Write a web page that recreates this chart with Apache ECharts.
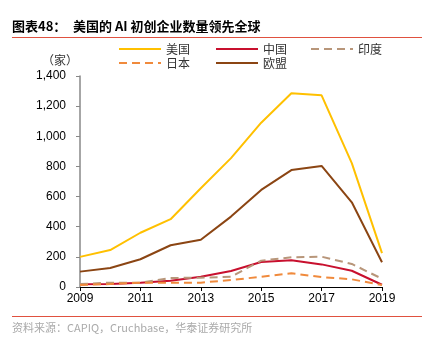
<!DOCTYPE html>
<html><head><meta charset="utf-8">
<script src="https://cdn.jsdelivr.net/npm/echarts@6/dist/echarts.min.js"></script>
<style>html,body{margin:0;padding:0;background:#fff}#c{width:428px;height:342px}</style>
</head><body><div id="c"></div>
<script>
var years = ['2009','2010','2011','2012','2013','2014','2015','2016','2017','2018','2019'];
var us = [200, 245, 360, 450, 655, 855, 1090, 1285, 1272, 822, 225];
var cn = [18, 20, 29, 42, 68, 106, 166, 177, 150, 108, 15];
var india = [20, 29, 29, 60, 62, 68, 175, 197, 201, 153, 55];
var jp = [13, 20, 29, 29, 29, 46, 68, 91, 66, 51, 13];
var eu = [102, 126, 184, 277, 314, 467, 644, 776, 803, 562, 164];
var yTicks = {min: 0, max: 1400, interval: 200};

var chart = echarts.init(document.getElementById('c'), null, {renderer: 'canvas'});
var cjk = '"Liberation Sans", Arial, "Noto Sans CJK SC", sans-serif';
function mk(name, data, color, dashed) {
  return {
    name: name, type: 'line', data: data, symbol: 'none',
    lineStyle: {color: color, width: 2, type: dashed ? [8, 5] : 'solid'},
    itemStyle: {color: color}
  };
}
function lg(name, left, top) {
  return {
    data: [name], left: left, top: top, padding: 0,
    itemWidth: 42, itemHeight: 10, itemGap: 6,
    itemStyle: {opacity: 0, borderWidth: 0},
    textStyle: {fontSize: 12, color: '#333', fontFamily: '"Noto Sans CJK SC", sans-serif'}
  };
}
chart.setOption({
  animation: false,
  grid: {left: 80, right: 46, top: 76, bottom: 55},
  legend: [
    lg('美国', 118, 43), lg('中国', 215, 43), lg('印度', 310, 43),
    lg('日本', 118, 57), lg('欧盟', 215, 57)
  ],
  xAxis: {
    type: 'category', data: years, boundaryGap: false,
    axisLine: {lineStyle: {color: '#000', width: 1}},
    axisTick: {interval: 1, length: 4, lineStyle: {color: '#000'}},
    axisLabel: {interval: 1, fontSize: 12, color: '#000', fontFamily: cjk, margin: 6}
  },
  yAxis: {
    type: 'value', min: yTicks.min, max: yTicks.max, interval: yTicks.interval,
    splitLine: {show: false},
    axisLine: {show: true, lineStyle: {color: '#888', width: 1.5}},
    axisTick: {show: true, length: 4, lineStyle: {color: '#888'}},
    axisLabel: {fontSize: 12, color: '#000', fontFamily: cjk, margin: 14,
      formatter: function (v) { return v.toLocaleString('en-US'); }}
  },
  series: [
    mk('美国', us, '#FFC000', false),
    mk('中国', cn, '#C8102E', false),
    mk('印度', india, '#B8967A', true),
    mk('日本', jp, '#F08A3C', true),
    mk('欧盟', eu, '#8B4513', false)
  ],
  graphic: [
    {type: 'text', left: 12, top: 20, style: {text: '图表48：', font: 'bold 13px "Noto Sans CJK SC", sans-serif', fill: '#000'}},
    {type: 'text', left: 73, top: 20, style: {text: '美国的 AI 初创企业数量领先全球', font: 'bold 13px "Noto Sans CJK SC", sans-serif', fill: '#000'}},
    {type: 'rect', shape: {x: 12, y: 37, width: 410, height: 1}, style: {fill: '#E0513F'}},
    {type: 'rect', shape: {x: 12, y: 316, width: 410, height: 1}, style: {fill: '#E0513F'}},
    {type: 'text', left: 42, top: 54, style: {text: '（家）', font: '12px "Noto Sans CJK SC", sans-serif', fill: '#333'}},
    {type: 'text', left: 12, top: 322, style: {text: '资料来源：CAPIQ，Cruchbase，华泰证券研究所', font: '11px "Noto Sans CJK SC", sans-serif', fill: '#aaa'}}
  ]
});
</script></body></html>
